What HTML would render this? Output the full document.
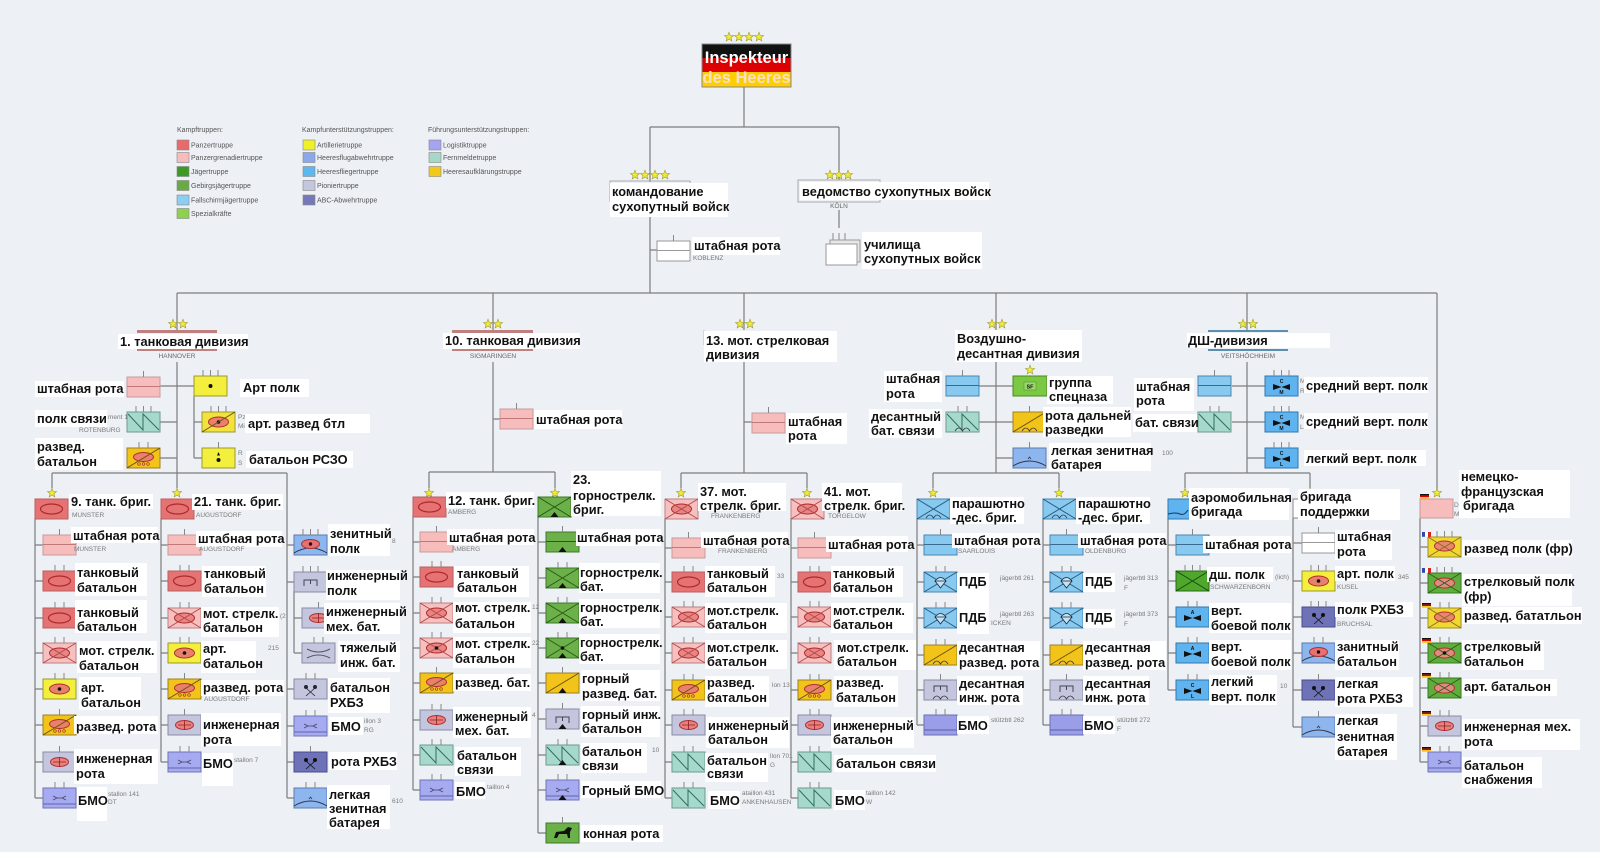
<!DOCTYPE html>
<html><head><meta charset="utf-8"><title>Heer</title>
<style>
html,body{margin:0;padding:0;background:#edf0f5;width:1600px;height:852px;overflow:hidden}
svg{display:block}
.l{font-family:"Liberation Sans","DejaVu Sans",sans-serif;font-weight:bold;font-size:12.8px;fill:#111}
.s{font-family:"Liberation Sans",sans-serif;font-size:6.5px;fill:#7a7a7a}
.g{font-family:"Liberation Sans",sans-serif;font-size:7px;fill:#555}
.c{font-family:"Liberation Sans",sans-serif;font-size:6.5px;fill:#666;text-anchor:middle}
.h{font-family:"Liberation Sans",sans-serif;font-weight:bold;font-size:5px;fill:#111;text-anchor:middle}
.ln{stroke:#7c7c7c;stroke-width:1.2;fill:none}
.w{fill:#fff}
</style></head><body>
<svg width="1600" height="852" viewBox="0 0 1600 852" xmlns="http://www.w3.org/2000/svg">
<defs>
<polygon id="st" points="0,-4.8 1.18,-1.62 4.57,-1.48 1.9,0.62 2.82,3.88 0,2 -2.82,3.88 -1.9,0.62 -4.57,-1.48 -1.18,-1.62" fill="#f2ea3a" stroke="#9a9a2a" stroke-width="0.6"/>
<path id="t1" d="M16.5 -6V0" stroke="#888" stroke-width="1"/>
<path id="t2" d="M12 -6V0M21 -6V0" stroke="#888" stroke-width="1"/>
<path id="t3" d="M9 -6V0M16.5 -6V0M24 -6V0" stroke="#888" stroke-width="1"/>
<g id="fde"><rect x="0" y="0" width="9" height="1.6" fill="#111"/><rect x="0" y="1.6" width="9" height="1.6" fill="#d00"/><rect x="0" y="3.2" width="9" height="1.6" fill="#fc0"/></g>
<g id="ffr"><rect x="0" y="0" width="3" height="4.8" fill="#2a4ab0"/><rect x="3" y="0" width="3" height="4.8" fill="#fff"/><rect x="6" y="0" width="3" height="4.8" fill="#d22"/></g>

<g id="tank"><rect width="33" height="20" fill="#e57373" stroke="#b86060"/><ellipse cx="16.5" cy="10" rx="11" ry="5" fill="none" stroke="#b02828" stroke-width="1.2"/></g>
<g id="hq"><rect width="33" height="20" fill="#f7bcbc" stroke="#c89a9a"/><path d="M0 9.5H33" stroke="#c07878"/></g>
<g id="pzg"><rect width="33" height="20" fill="#f7c0c0" stroke="#c08080"/><ellipse cx="16.5" cy="10" rx="10" ry="5" fill="#e98585" stroke="#b02828"/><path d="M0 0L33 20M33 0L0 20" stroke="#b04848" stroke-width="0.9"/></g>
<g id="pzgd"><use href="#pzg"/><circle cx="16.5" cy="10" r="1.8" fill="#111"/></g>
<g id="art"><rect width="33" height="20" fill="#f3ef3c" stroke="#9a9a30"/><ellipse cx="16.5" cy="10" rx="10" ry="5" fill="#e8806c" stroke="#b03030"/><circle cx="16.5" cy="10" r="1.8" fill="#111"/></g>
<g id="artd"><rect width="33" height="20" fill="#f3ef3c" stroke="#9a9a30"/><circle cx="16.5" cy="10" r="2" fill="#111"/></g>
<g id="rscz"><rect width="33" height="20" fill="#f3ef3c" stroke="#9a9a30"/><circle cx="16.5" cy="12" r="2" fill="#111"/><path d="M16.5 4L15 7.5H18Z" fill="#111"/></g>
<g id="artrec"><rect width="33" height="20" fill="#f3e23c" stroke="#9a9a30"/><ellipse cx="16.5" cy="10" rx="10" ry="5" fill="#e8806c" stroke="#b03030"/><circle cx="16.5" cy="10" r="1.8" fill="#111"/><path d="M0 20L33 0" stroke="#6a5010"/></g>
<g id="rec"><rect width="33" height="20" fill="#f2c41a" stroke="#a08020"/><ellipse cx="16.5" cy="9" rx="10" ry="4.5" fill="#e8806c" stroke="#b03030"/><path d="M0 20L33 0" stroke="#6a5010"/><circle cx="12" cy="16" r="1.3" fill="none" stroke="#a03030" stroke-width="0.7"/><circle cx="16.5" cy="16" r="1.3" fill="none" stroke="#a03030" stroke-width="0.7"/><circle cx="21" cy="16" r="1.3" fill="none" stroke="#a03030" stroke-width="0.7"/></g>
<g id="eng"><rect width="33" height="20" fill="#c4c6de" stroke="#8a8ca8"/><ellipse cx="16.5" cy="10" rx="9" ry="4.5" fill="#e88080" stroke="#b03030"/><path d="M16.5 5.5V14.5M10 10H23" stroke="#902020" stroke-width="0.8"/></g>
<g id="engb"><rect width="33" height="20" fill="#c4c6de" stroke="#8a8ca8"/><path d="M10 14V8H23V14M16.5 8V12" stroke="#445" fill="none"/></g>
<g id="engh"><rect width="33" height="20" fill="#c4c6de" stroke="#8a8ca8"/><path d="M5 6Q16.5 12 28 6M5 15Q16.5 9 28 15" stroke="#556" fill="none"/></g>
<g id="log"><rect width="33" height="20" fill="#a6aaf0" stroke="#7074b8"/><path d="M0 16H33" stroke="#6064a8"/><path d="M10 8L14 10L10 12M23 8L19 10L23 12M14 10H19" stroke="#446" stroke-width="0.8" fill="none"/></g>
<g id="sig"><rect width="33" height="20" fill="#a6d9cb" stroke="#6a9a90"/><path d="M1 2L16 18V2L32 18" stroke="#2f6f60" fill="none"/></g>
<g id="aa"><rect width="33" height="20" fill="#8db6ee" stroke="#5a7ab0"/><path d="M0 18Q16.5 8 33 18" stroke="#334" fill="none"/><ellipse cx="16.5" cy="9" rx="9" ry="4.5" fill="#e87070" stroke="#b03030"/><circle cx="16.5" cy="9" r="1.7" fill="#111"/></g>
<g id="aal"><rect width="33" height="20" fill="#8db6ee" stroke="#5a7ab0"/><path d="M0 18Q16.5 8 33 18" stroke="#334" fill="none"/><path d="M15 11L16.5 9L18 11" stroke="#334" fill="none" stroke-width="0.8"/></g>
<g id="cbrn"><rect width="33" height="20" fill="#c4c6de" stroke="#8a8ca8"/><circle cx="12" cy="8" r="2" fill="#223"/><circle cx="21" cy="8" r="2" fill="#223"/><path d="M12 9L21 17M21 9L12 17" stroke="#223" stroke-width="0.8"/></g>
<g id="cbrnd"><rect width="33" height="20" fill="#6e72b6" stroke="#4a4e90"/><circle cx="12" cy="8" r="2" fill="#111"/><circle cx="21" cy="8" r="2" fill="#111"/><path d="M12 9L21 17M21 9L12 17" stroke="#111" stroke-width="0.8"/></g>
<path id="tri" d="M12.5 20L16.5 15L20.5 20Z" fill="#111"/>
<g id="mtn"><rect width="33" height="20" fill="#6cb04a" stroke="#3e7a28"/><path d="M0 0L33 20M33 0L0 20" stroke="#2a5a18"/><use href="#tri"/></g>
<g id="mtnd"><use href="#mtn"/><circle cx="16.5" cy="10" r="1.8" fill="#111"/></g>
<g id="mtnhq"><rect width="33" height="20" fill="#6cb04a" stroke="#3e7a28"/><path d="M0 9.5H33" stroke="#2a5a18"/><use href="#tri"/></g>
<g id="mtnrec"><rect width="33" height="20" fill="#f2c41a" stroke="#a08020"/><path d="M0 20L33 0" stroke="#6a5010"/><use href="#tri"/></g>
<g id="mtneng"><use href="#engb"/><use href="#tri"/></g>
<g id="mtnsig"><use href="#sig"/><use href="#tri"/></g>
<g id="mtnlog"><use href="#log"/><use href="#tri"/></g>
<g id="horse"><rect width="33" height="20" fill="#6cb04a" stroke="#3e7a28"/><path d="M8 15L10 9L18 8L22 4L26 5L24 9L24 15L22 15L21 11L13 11L11 15Z" fill="#111"/></g>
<g id="parhq"><rect width="33" height="20" fill="#88c9ef" stroke="#4a86b0"/><path d="M0 9.5H33" stroke="#3a6a90"/></g>
<path id="arcs" d="M9 19Q12.75 13 16.5 19Q20.25 13 24 19" stroke="#334" fill="none" stroke-width="0.8"/>
<g id="para"><rect width="33" height="20" fill="#88c9ef" stroke="#4a86b0"/><path d="M0 0L33 20M33 0L0 20" stroke="#2a5a80"/><use href="#arcs"/></g>
<g id="pdb"><rect width="33" height="20" fill="#88c9ef" stroke="#4a86b0"/><path d="M0 0L33 20M33 0L0 20" stroke="#2a5a80"/><path d="M11 9Q16.5 2 22 9ZM11 9L16.5 16L22 9" stroke="#223" fill="#bfe4f8" stroke-width="0.8"/></g>
<g id="prec"><rect width="33" height="20" fill="#f2c41a" stroke="#a08020"/><path d="M0 20L33 0" stroke="#6a5010"/><use href="#arcs"/></g>
<g id="peng"><rect width="33" height="20" fill="#c4c6de" stroke="#8a8ca8"/><path d="M10 12V6H23V12M16.5 6V10" stroke="#445" fill="none"/><use href="#arcs"/></g>
<g id="psig"><use href="#sig"/><use href="#arcs"/></g>
<g id="plog"><rect width="33" height="20" fill="#9a9ee8" stroke="#6a6eb0"/><path d="M0 15H33" stroke="#5a5ea0"/></g>
<g id="heli"><rect width="33" height="20" fill="#5fb3ee" stroke="#2f79b0"/><path d="M8 8L16.5 11L8 14ZM25 8L16.5 11L25 14Z" fill="#111"/></g>
<g id="jgx"><rect width="33" height="20" fill="#4ea82c" stroke="#2a6a18"/><path d="M0 0L33 20M33 0L0 20" stroke="#1a4a10"/></g>
<g id="aero"><rect width="33" height="20" fill="#5fb3ee" stroke="#2f79b0"/><path d="M0 15Q8 13 12 15Q16 17 20 11" stroke="#235" fill="none"/></g>
<g id="whq"><rect width="33" height="20" fill="#fff" stroke="#999"/><path d="M0 9.5H33" stroke="#999"/></g>
<g id="frrec"><rect width="33" height="20" fill="#f0d830" stroke="#a09020"/><ellipse cx="16.5" cy="9" rx="10" ry="5" fill="#e8866e" stroke="#b03030"/><path d="M0 0L33 20M33 0L0 20" stroke="#8a6a20" stroke-width="0.8"/></g>
<g id="frinf"><rect width="33" height="20" fill="#5fae3d" stroke="#3a7a20"/><ellipse cx="16.5" cy="10" rx="10" ry="5" fill="#e08a80" stroke="#b03030"/><path d="M0 0L33 20M33 0L0 20" stroke="#2a5a18" stroke-width="0.8"/></g>
<g id="frinfd"><use href="#frinf"/><circle cx="16.5" cy="10" r="1.8" fill="#111"/></g>
</defs>

<rect width="1600" height="852" fill="#edf0f5"/>

<!-- LEGEND -->
<text class="g" x="177" y="132">Kampftruppen:</text>
<g stroke="#888" stroke-width="0.6">
<rect x="177" y="140" width="12" height="10" fill="#e86a6a"/>
<rect x="177" y="152.5" width="12" height="10" fill="#f8bcbc"/>
<rect x="177" y="166.5" width="12" height="10" fill="#3f9a25"/>
<rect x="177" y="180.5" width="12" height="10" fill="#6aaa45"/>
<rect x="177" y="195" width="12" height="10" fill="#8dcdf0"/>
<rect x="177" y="208.5" width="12" height="10" fill="#8ed050"/>
<rect x="303" y="140" width="12" height="10" fill="#f0f028"/>
<rect x="303" y="152.5" width="12" height="10" fill="#8aa8ea"/>
<rect x="303" y="166.5" width="12" height="10" fill="#5db8f0"/>
<rect x="303" y="180.5" width="12" height="10" fill="#c4c6de"/>
<rect x="303" y="195" width="12" height="10" fill="#7478b8"/>
<rect x="429" y="140" width="12" height="10" fill="#a4a4f0"/>
<rect x="429" y="152.5" width="12" height="10" fill="#a6d8c8"/>
<rect x="429" y="166.5" width="12" height="10" fill="#f2c81a"/>
</g>
<text class="g" x="191" y="147.5">Panzertruppe</text>
<text class="g" x="191" y="160">Panzergrenadiertruppe</text>
<text class="g" x="191" y="174">Jägertruppe</text>
<text class="g" x="191" y="188">Gebirgsjägertruppe</text>
<text class="g" x="191" y="202.5">Fallschirmjägertruppe</text>
<text class="g" x="191" y="216">Spezialkräfte</text>
<text class="g" x="302" y="132">Kampfunterstützungstruppen:</text>
<text class="g" x="317" y="147.5">Artillerietruppe</text>
<text class="g" x="317" y="160">Heeresflugabwehrtruppe</text>
<text class="g" x="317" y="174">Heeresfliegertruppe</text>
<text class="g" x="317" y="188">Pioniertruppe</text>
<text class="g" x="317" y="202.5">ABC-Abwehrtruppe</text>
<text class="g" x="428" y="132">Führungsunterstützungstruppen:</text>
<text class="g" x="443" y="147.5">Logistiktruppe</text>
<text class="g" x="443" y="160">Fernmeldetruppe</text>
<text class="g" x="443" y="174">Heeresaufklärungstruppe</text>

<!-- CONNECTORS -->
<path class="ln" d="M744 87V127M650 127H839M650 127V182M839 127V180M650 217V293M650 250H657M839 210V228M177 293H1437
M177 293V330M493 293V330M744 293V330M996 293V330M1247 293V330M1437 293V489
M177 362V473M160 386H194M160 422H177M160 458H177M194 396V458M194 422H202M194 458H202M52 473H287M52 473V488M177 473V488
M35 518V798M35 545H43M35 581H43M35 618H43M35 653H43M35 689H43M35 725H43M35 762H43M35 798H43
M161 518V762M161 545H168M161 581H168M161 618H168M161 653H168M161 689H168M161 725H168M161 762H168
M287 473V798M287 545H294M287 582H294M287 689H294M287 726H294M287 762H294M287 798H294M294 590V653M294 618H302M294 653H302
M493 362V472M493 419H500M429 472H555M429 472V488M555 472V488
M413 515V790M413 542H420M413 577H420M413 613H420M413 648H420M413 683H420M413 720H420M413 755H420M413 790H420
M538 515V833M538 542H546M538 578H546M538 613H546M538 648H546M538 683H546M538 719H546M538 755H546M538 790H546M538 833H546
M744 362V473M744 422H752M681 473H807M681 473V488M807 473V488
M665 518V798M665 548H672M665 582H672M665 617H672M665 653H672M665 690H672M665 725H672M665 762H672M665 798H672
M791 518V798M791 548H798M791 582H798M791 617H798M791 653H798M791 690H798M791 725H798M791 762H798M791 798H798
M996 362V473M979 386H1013M979 422H1013M996 458H1013M933 473H1059M933 473V488M1059 473V488
M917 518V725M917 545H924M917 582H924M917 618H924M917 655H924M917 690H924M917 725H924
M1043 518V725M1043 545H1050M1043 582H1050M1043 618H1050M1043 655H1050M1043 690H1050M1043 725H1050
M1247 362V473M1232 386H1265M1232 422H1265M1247 458H1265M1185 473H1310M1185 473V488M1310 473V488
M1168 518V690M1168 545H1176M1168 581H1176M1168 617H1176M1168 653H1176M1168 690H1176
M1293 518V727M1293 543H1302M1293 581H1302M1293 617H1302M1293 653H1302M1293 690H1302M1293 727H1302
M1420 518V762M1420 547H1428M1420 583H1428M1420 618H1428M1420 653H1428M1420 688H1428M1420 726H1428M1420 762H1428"/>

<!-- TOP: Inspekteur -->
<use href="#st" x="729" y="37"/><use href="#st" x="739" y="37"/><use href="#st" x="749" y="37"/><use href="#st" x="759" y="37"/>
<rect x="702" y="44" width="89" height="14" fill="#111"/>
<rect x="702" y="58" width="89" height="14" fill="#dd0000"/>
<rect x="702" y="72" width="89" height="15" fill="#ffce00"/>
<rect x="702" y="44" width="89" height="43" fill="none" stroke="#888"/>
<text x="746.5" y="63" text-anchor="middle" style="font-family:'Liberation Sans',sans-serif;font-weight:bold;font-size:16.5px;fill:#fff">Inspekteur</text>
<text x="746.5" y="83" text-anchor="middle" style="font-family:'Liberation Sans',sans-serif;font-weight:bold;font-size:16.5px;fill:#fbe0c8">des Heeres</text>

<!-- Kommando Heer -->
<use href="#st" x="635" y="175"/><use href="#st" x="645" y="175"/><use href="#st" x="655" y="175"/><use href="#st" x="665" y="175"/>
<rect x="610" y="181" width="80" height="20" fill="none" stroke="#aaa"/>
<rect class="w" x="610" y="183" width="118" height="34"/>
<text class="l" x="612" y="196">командование</text>
<text class="l" x="612" y="211">сухопутный войск</text>
<use href="#whq" x="657" y="241"/><use href="#t1" x="657" y="241"/>
<rect class="w" x="692" y="237" width="88" height="18"/>
<text class="l" x="694" y="250">штабная рота</text>
<text class="s" x="693" y="260">KOBLENZ</text>

<!-- Amt Heer -->
<use href="#st" x="830" y="175"/><use href="#st" x="839" y="175"/><use href="#st" x="848" y="175"/>
<rect x="798" y="180" width="82" height="22" fill="none" stroke="#aaa"/>
<rect class="w" x="800" y="182" width="189" height="18"/>
<text class="l" x="802" y="196">ведомство сухопутных войск</text>
<text class="c" x="839" y="208">KÖLN</text>
<path d="M833 233V240M839 233V240M845 233V240" stroke="#888"/>
<rect x="830" y="240" width="30" height="22" fill="#e6e6e6" stroke="#999"/>
<rect x="826" y="244" width="31" height="21" fill="#fff" stroke="#999"/>
<rect class="w" x="862" y="232" width="120" height="37"/>
<text class="l" x="864" y="249">училища</text>
<text class="l" x="864" y="263">сухопутных войск</text>

<!-- DIV 1 -->
<use href="#st" x="173" y="324"/><use href="#st" x="183" y="324"/>
<rect x="137" y="330" width="80" height="3" fill="#c08080"/>
<rect class="w" x="118" y="334" width="130" height="15"/>
<rect x="137" y="349" width="80" height="2" fill="#c08080"/>
<text class="l" x="120" y="346">1. танковая дивизия</text>
<text class="c" x="177" y="358">HANNOVER</text>
<use href="#hq" x="127" y="377"/><use href="#t1" x="127" y="377"/>
<rect class="w" x="35" y="381" width="89" height="16"/><text class="l" x="37" y="393">штабная рота</text>
<use href="#sig" x="127" y="412"/><use href="#t3" x="127" y="412"/>
<text class="s" x="108" y="419">ment 1</text><text class="s" x="79" y="432">ROTENBURG</text>
<rect class="w" x="35" y="410" width="72" height="17"/><text class="l" x="37" y="423">полк связи</text>
<use href="#rec" x="127" y="448"/><use href="#t2" x="127" y="448"/>
<rect class="w" x="35" y="438" width="88" height="32"/><text class="l" x="37" y="451">развед.</text><text class="l" x="37" y="466">батальон</text>
<use href="#artd" x="194" y="376"/><use href="#t3" x="194" y="376"/>
<rect class="w" x="240" y="379" width="69" height="18"/><text class="l" x="243" y="392">Арт полк</text>
<use href="#artrec" x="202" y="412"/><use href="#t3" x="202" y="412"/>
<text class="s" x="238" y="419">Pz</text><text class="s" x="238" y="428">Mi</text>
<rect class="w" x="245" y="414" width="125" height="19"/><text class="l" x="248" y="428">арт. развед бтл</text>
<use href="#rscz" x="202" y="448"/><use href="#t1" x="202" y="448"/>
<text class="s" x="238" y="455">R</text><text class="s" x="238" y="465">S</text>
<rect class="w" x="246" y="451" width="107" height="17"/><text class="l" x="249" y="464">батальон РСЗО</text>

<!-- 9 brig -->
<use href="#st" x="52" y="493"/>
<use href="#tank" x="35" y="499"/>
<rect class="w" x="69" y="494" width="84" height="15"/><text class="l" x="71" y="506">9. танк. бриг.</text>
<text class="s" x="72" y="517">MUNSTER</text>
<use href="#hq" x="43" y="535"/><use href="#t1" x="43" y="535"/>
<use href="#tank" x="43" y="571"/><use href="#t2" x="43" y="571"/>
<use href="#tank" x="43" y="608"/><use href="#t2" x="43" y="608"/>
<use href="#pzg" x="43" y="643"/><use href="#t2" x="43" y="643"/>
<use href="#art" x="43" y="679"/><use href="#t2" x="43" y="679"/>
<use href="#rec" x="43" y="715"/><use href="#t1" x="43" y="715"/>
<use href="#eng" x="43" y="752"/><use href="#t1" x="43" y="752"/>
<use href="#log" x="43" y="788"/><use href="#t2" x="43" y="788"/>
<rect class="w" x="71" y="527" width="87" height="16"/><text class="l" x="73" y="540">штабная рота</text>
<text class="s" x="74" y="551">MUNSTER</text>
<rect class="w" x="75" y="563" width="72" height="33"/><text class="l" x="77" y="577">танковый</text><text class="l" x="77" y="592">батальон</text>
<rect class="w" x="75" y="600" width="72" height="33"/><text class="l" x="77" y="617">танковый</text><text class="l" x="77" y="631">батальон</text>
<rect class="w" x="77" y="641" width="80" height="32"/><text class="l" x="79" y="655">мот. стрелк.</text><text class="l" x="79" y="670">батальон</text>
<rect class="w" x="79" y="677" width="62" height="33"/><text class="l" x="81" y="692">арт.</text><text class="l" x="81" y="707">батальон</text>
<rect class="w" x="74" y="716" width="84" height="18"/><text class="l" x="76" y="731">развед. рота</text>
<rect class="w" x="74" y="749" width="84" height="35"/><text class="l" x="76" y="763">инженерная</text><text class="l" x="76" y="778">рота</text>
<text class="s" x="108" y="796">stallon 141</text><text class="s" x="108" y="804">DT</text>
<rect class="w" x="77" y="787" width="30" height="34"/><text class="l" x="78" y="805">БМО</text>

<!-- 21 brig -->
<use href="#st" x="177" y="493"/>
<use href="#tank" x="161" y="499"/>
<rect class="w" x="192" y="494" width="91" height="16"/><text class="l" x="194" y="506">21. танк. бриг.</text>
<text class="s" x="196" y="517">AUGUSTDORF</text>
<use href="#hq" x="168" y="535"/><use href="#t1" x="168" y="535"/>
<use href="#tank" x="168" y="571"/><use href="#t2" x="168" y="571"/>
<use href="#pzg" x="168" y="608"/><use href="#t2" x="168" y="608"/>
<use href="#art" x="168" y="643"/><use href="#t2" x="168" y="643"/>
<use href="#rec" x="168" y="679"/><use href="#t1" x="168" y="679"/>
<use href="#eng" x="168" y="715"/><use href="#t1" x="168" y="715"/>
<use href="#log" x="168" y="752"/><use href="#t2" x="168" y="752"/>
<rect class="w" x="196" y="531" width="86" height="16"/><text class="l" x="198" y="543">штабная рота</text>
<text class="s" x="199" y="551">AUGUSTDORF</text>
<rect class="w" x="202" y="566" width="64" height="31"/><text class="l" x="204" y="578">танковый</text><text class="l" x="204" y="593">батальон</text>
<rect class="w" x="201" y="607" width="78" height="30"/><text class="l" x="203" y="618">мот. стрелк.</text><text class="l" x="203" y="632">батальон</text>
<text class="s" x="280" y="618">(2</text>
<rect class="w" x="201" y="641" width="55" height="32"/><text class="l" x="203" y="653">арт.</text><text class="l" x="203" y="668">батальон</text>
<text class="s" x="268" y="650">215</text>
<rect class="w" x="201" y="680" width="83" height="16"/><text class="l" x="203" y="692">развед. рота</text>
<text class="s" x="204" y="701">AUGUSTDORF</text>
<rect class="w" x="201" y="713" width="80" height="33"/><text class="l" x="203" y="729">инженерная</text><text class="l" x="203" y="744">рота</text>
<text class="s" x="234" y="762">stallon 7</text>
<rect class="w" x="202" y="753" width="31" height="33"/><text class="l" x="203" y="768">БМО</text>

<!-- div1 support -->
<use href="#aa" x="294" y="535"/><use href="#t3" x="294" y="535"/>
<use href="#engb" x="294" y="572"/><use href="#t3" x="294" y="572"/>
<use href="#eng" x="302" y="608"/><use href="#t1" x="302" y="608"/>
<use href="#engh" x="302" y="643"/><use href="#t2" x="302" y="643"/>
<use href="#cbrn" x="294" y="679"/><use href="#t2" x="294" y="679"/>
<use href="#log" x="294" y="716"/><use href="#t2" x="294" y="716"/>
<use href="#cbrnd" x="294" y="752"/><use href="#t1" x="294" y="752"/>
<use href="#aal" x="294" y="788"/><use href="#t2" x="294" y="788"/>
<rect class="w" x="328" y="524" width="62" height="32"/><text class="l" x="330" y="538">зенитный</text><text class="l" x="330" y="553">полк</text>
<text class="s" x="392" y="543">8</text>
<rect class="w" x="326" y="570" width="74" height="30"/><text class="l" x="327" y="580">инженерный</text><text class="l" x="327" y="595">полк</text>
<rect class="w" x="324" y="603" width="76" height="31"/><text class="l" x="326" y="616">инженерный</text><text class="l" x="326" y="631">мех. бат.</text>
<rect class="w" x="338" y="641" width="62" height="31"/><text class="l" x="340" y="652">тяжелый</text><text class="l" x="340" y="667">инж. бат.</text>
<rect class="w" x="328" y="678" width="62" height="35"/><text class="l" x="330" y="692">батальон</text><text class="l" x="330" y="707">РХБЗ</text>
<text class="s" x="364" y="723">illon 3</text><text class="s" x="364" y="732">RG</text>
<rect class="w" x="329" y="717" width="34" height="18"/><text class="l" x="331" y="731">БМО</text>
<rect class="w" x="329" y="752" width="68" height="18"/><text class="l" x="331" y="766">рота РХБЗ</text>
<text class="s" x="392" y="803">610</text>
<rect class="w" x="327" y="785" width="63" height="44"/><text class="l" x="329" y="799">легкая</text><text class="l" x="329" y="813">зенитная</text><text class="l" x="329" y="827">батарея</text>

<!-- DIV 10 -->
<use href="#st" x="488" y="324"/><use href="#st" x="498" y="324"/>
<rect x="452" y="330" width="81" height="3" fill="#c08080"/>
<rect class="w" x="443" y="333" width="137" height="16"/>
<rect x="452" y="349" width="81" height="2" fill="#c08080"/>
<text class="l" x="445" y="345">10. танковая дивизия</text>
<text class="c" x="493" y="358">SIGMARINGEN</text>
<use href="#hq" x="500" y="409"/><use href="#t1" x="500" y="409"/>
<rect class="w" x="534" y="410" width="88" height="19"/><text class="l" x="536" y="424">штабная рота</text>

<use href="#st" x="429" y="493"/><use href="#st" x="555" y="493"/>
<use href="#tank" x="413" y="497"/>
<rect class="w" x="446" y="492" width="88" height="16"/><text class="l" x="448" y="505">12. танк. бриг.</text>
<text class="s" x="448" y="514">AMBERG</text>
<use href="#hq" x="420" y="532"/><use href="#t1" x="420" y="532"/>
<use href="#tank" x="420" y="567"/><use href="#t2" x="420" y="567"/>
<use href="#pzg" x="420" y="603"/><use href="#t2" x="420" y="603"/>
<use href="#pzgd" x="420" y="638"/><use href="#t2" x="420" y="638"/>
<use href="#rec" x="420" y="673"/><use href="#t1" x="420" y="673"/>
<use href="#eng" x="420" y="710"/><use href="#t2" x="420" y="710"/>
<use href="#sig" x="420" y="745"/><use href="#t2" x="420" y="745"/>
<use href="#log" x="420" y="780"/><use href="#t2" x="420" y="780"/>
<rect class="w" x="447" y="529" width="87" height="16"/><text class="l" x="449" y="542">штабная рота</text>
<text class="s" x="452" y="551">AMBERG</text>
<rect class="w" x="454" y="566" width="75" height="31"/><text class="l" x="457" y="578">танковый</text><text class="l" x="457" y="592">батальон</text>
<rect class="w" x="453" y="602" width="78" height="31"/><text class="l" x="455" y="612">мот. стрелк.</text><text class="l" x="455" y="628">батальон</text>
<text class="s" x="532" y="609">12</text>
<rect class="w" x="453" y="637" width="78" height="31"/><text class="l" x="455" y="648">мот. стрелк.</text><text class="l" x="455" y="663">батальон</text>
<text class="s" x="532" y="645">22</text>
<rect class="w" x="453" y="674" width="78" height="17"/><text class="l" x="455" y="687">развед. бат.</text>
<rect class="w" x="453" y="707" width="78" height="31"/><text class="l" x="455" y="721">иженерный</text><text class="l" x="455" y="735">мех. бат.</text>
<text class="s" x="532" y="717">4</text>
<rect class="w" x="455" y="747" width="66" height="29"/><text class="l" x="457" y="760">батальон</text><text class="l" x="457" y="774">связи</text>
<text class="s" x="487" y="789">taillon 4</text>
<rect class="w" x="455" y="782" width="30" height="17"/><text class="l" x="456" y="796">БМО</text>

<use href="#mtn" x="538" y="497"/>
<rect class="w" x="571" y="471" width="90" height="45"/><text class="l" x="573" y="484">23.</text><text class="l" x="573" y="500">горнострелк.</text><text class="l" x="573" y="514">бриг.</text>
<use href="#mtnhq" x="546" y="532"/><use href="#t1" x="546" y="532"/>
<use href="#mtn" x="546" y="568"/><use href="#t2" x="546" y="568"/>
<use href="#mtn" x="546" y="603"/><use href="#t2" x="546" y="603"/>
<use href="#mtnd" x="546" y="638"/><use href="#t2" x="546" y="638"/>
<use href="#mtnrec" x="546" y="673"/><use href="#t1" x="546" y="673"/>
<use href="#mtneng" x="546" y="709"/><use href="#t1" x="546" y="709"/>
<use href="#mtnsig" x="546" y="745"/><use href="#t2" x="546" y="745"/>
<use href="#mtnlog" x="546" y="780"/><use href="#t2" x="546" y="780"/>
<use href="#horse" x="546" y="823"/><use href="#t1" x="546" y="823"/>
<rect class="w" x="576" y="529" width="85" height="17"/><text class="l" x="577" y="542">штабная рота</text>
<rect class="w" x="579" y="563" width="81" height="30"/><text class="l" x="580" y="577">горнострелк.</text><text class="l" x="580" y="591">бат.</text>
<rect class="w" x="579" y="599" width="81" height="29"/><text class="l" x="580" y="612">горнострелк.</text><text class="l" x="580" y="626">бат.</text>
<rect class="w" x="579" y="634" width="81" height="30"/><text class="l" x="580" y="647">горнострелк.</text><text class="l" x="580" y="661">бат.</text>
<rect class="w" x="581" y="670" width="79" height="31"/><text class="l" x="582" y="683">горный</text><text class="l" x="582" y="698">развед. бат.</text>
<rect class="w" x="581" y="706" width="79" height="31"/><text class="l" x="582" y="719">горный инж.</text><text class="l" x="582" y="733">батальон</text>
<text class="s" x="652" y="752">10</text>
<rect class="w" x="581" y="743" width="66" height="30"/><text class="l" x="582" y="756">батальон</text><text class="l" x="582" y="770">связи</text>
<rect class="w" x="581" y="781" width="80" height="17"/><text class="l" x="582" y="795">Горный БМО</text>
<rect class="w" x="581" y="825" width="82" height="17"/><text class="l" x="583" y="838">конная рота</text>

<!-- DIV 13 -->
<use href="#st" x="740" y="324"/><use href="#st" x="750" y="324"/>
<path d="M704 330V345" stroke="#bbb"/>
<rect class="w" x="704" y="331" width="133" height="31"/>
<text class="l" x="706" y="345">13. мот. стрелковая</text><text class="l" x="706" y="359">дивизия</text>
<use href="#hq" x="752" y="413"/><use href="#t1" x="752" y="413"/>
<rect class="w" x="786" y="413" width="61" height="31"/><text class="l" x="788" y="426">штабная</text><text class="l" x="788" y="440">рота</text>

<use href="#st" x="681" y="493"/><use href="#st" x="807" y="493"/>
<use href="#pzg" x="665" y="499"/>
<rect class="w" x="698" y="483" width="88" height="28"/><text class="l" x="700" y="496">37. мот.</text><text class="l" x="700" y="510">стрелк. бриг.</text>
<text class="s" x="711" y="518">FRANKENBERG</text>
<use href="#hq" x="672" y="538"/><use href="#t1" x="672" y="538"/>
<use href="#tank" x="672" y="572"/><use href="#t2" x="672" y="572"/>
<use href="#pzg" x="672" y="607"/><use href="#t2" x="672" y="607"/>
<use href="#pzg" x="672" y="643"/><use href="#t2" x="672" y="643"/>
<use href="#rec" x="672" y="680"/><use href="#t2" x="672" y="680"/>
<use href="#eng" x="672" y="715"/><use href="#t2" x="672" y="715"/>
<use href="#sig" x="672" y="752"/><use href="#t2" x="672" y="752"/>
<use href="#sig" x="672" y="788"/><use href="#t2" x="672" y="788"/>
<rect class="w" x="701" y="532" width="87" height="16"/><text class="l" x="703" y="545">штабная рота</text>
<text class="s" x="718" y="553">FRANKENBERG</text>
<rect class="w" x="705" y="566" width="70" height="31"/><text class="l" x="707" y="578">танковый</text><text class="l" x="707" y="592">батальон</text>
<text class="s" x="777" y="578">33</text>
<rect class="w" x="705" y="603" width="82" height="30"/><text class="l" x="707" y="615">мот.стрелк.</text><text class="l" x="707" y="629">батальон</text>
<rect class="w" x="705" y="640" width="82" height="29"/><text class="l" x="707" y="652">мот.стрелк.</text><text class="l" x="707" y="666">батальон</text>
<rect class="w" x="705" y="676" width="64" height="31"/><text class="l" x="707" y="687">развед.</text><text class="l" x="707" y="702">батальон</text>
<text class="s" x="772" y="687">lon 13</text>
<rect class="w" x="706" y="717" width="83" height="31"/><text class="l" x="708" y="730">инженерный</text><text class="l" x="708" y="744">батальон</text>
<text class="s" x="770" y="758">llon 701</text><text class="s" x="770" y="767">G</text>
<rect class="w" x="705" y="753" width="63" height="29"/><text class="l" x="707" y="765">батальон</text><text class="l" x="707" y="778">связи</text>
<text class="s" x="742" y="795">ataillon 431</text><text class="s" x="742" y="804">ANKENHAUSEN</text>
<rect class="w" x="708" y="791" width="32" height="18"/><text class="l" x="710" y="805">БМО</text>

<use href="#pzg" x="791" y="499"/>
<rect class="w" x="822" y="483" width="80" height="28"/><text class="l" x="824" y="496">41. мот.</text><text class="l" x="824" y="510">стрелк. бриг.</text>
<text class="s" x="828" y="518">TORGELOW</text>
<use href="#hq" x="798" y="538"/><use href="#t1" x="798" y="538"/>
<use href="#tank" x="798" y="572"/><use href="#t2" x="798" y="572"/>
<use href="#pzg" x="798" y="607"/><use href="#t2" x="798" y="607"/>
<use href="#pzg" x="798" y="643"/><use href="#t2" x="798" y="643"/>
<use href="#rec" x="798" y="680"/><use href="#t2" x="798" y="680"/>
<use href="#eng" x="798" y="715"/><use href="#t2" x="798" y="715"/>
<use href="#sig" x="798" y="752"/><use href="#t2" x="798" y="752"/>
<use href="#sig" x="798" y="788"/><use href="#t2" x="798" y="788"/>
<rect class="w" x="826" y="536" width="82" height="16"/><text class="l" x="828" y="549">штабная рота</text>
<rect class="w" x="831" y="566" width="72" height="31"/><text class="l" x="833" y="578">танковый</text><text class="l" x="833" y="592">батальон</text>
<rect class="w" x="831" y="603" width="82" height="30"/><text class="l" x="833" y="615">мот.стрелк.</text><text class="l" x="833" y="629">батальон</text>
<rect class="w" x="834" y="640" width="82" height="30"/><text class="l" x="837" y="652">мот.стрелк.</text><text class="l" x="837" y="666">батальон</text>
<rect class="w" x="834" y="676" width="64" height="31"/><text class="l" x="836" y="687">развед.</text><text class="l" x="836" y="702">батальон</text>
<rect class="w" x="831" y="717" width="83" height="31"/><text class="l" x="833" y="730">инженерный</text><text class="l" x="833" y="744">батальон</text>
<rect class="w" x="834" y="755" width="102" height="17"/><text class="l" x="836" y="768">батальон связи</text>
<text class="s" x="866" y="795">taillon 142</text><text class="s" x="866" y="804">W</text>
<rect class="w" x="834" y="790" width="31" height="20"/><text class="l" x="835" y="805">БМО</text>

<!-- AIRBORNE -->
<use href="#st" x="992" y="324"/><use href="#st" x="1002" y="324"/>
<rect class="w" x="955" y="330" width="127" height="32"/>
<text class="l" x="957" y="343">Воздушно-</text><text class="l" x="957" y="358">десантная дивизия</text>
<use href="#parhq" x="946" y="376"/><use href="#t1" x="946" y="376"/>
<use href="#psig" x="946" y="412"/><use href="#t2" x="946" y="412"/>
<rect class="w" x="884" y="371" width="58" height="31"/><text class="l" x="886" y="383">штабная</text><text class="l" x="886" y="398">рота</text>
<rect class="w" x="869" y="409" width="73" height="29"/><text class="l" x="871" y="421">десантный</text><text class="l" x="871" y="435">бат. связи</text>
<rect x="1013" y="376" width="34" height="20" fill="#7ac843" stroke="#4a8a20"/>
<rect x="1024" y="382" width="12" height="8" fill="#9ada6a" stroke="#4a8a20" stroke-width="0.5"/>
<text class="h" x="1030" y="388.5" style="font-size:5.5px">SF</text>
<use href="#st" x="1030" y="370"/>
<use href="#prec" x="1013" y="412"/><use href="#t1" x="1013" y="412"/>
<use href="#aal" x="1013" y="448"/><use href="#t1" x="1013" y="448"/>
<rect class="w" x="1047" y="376" width="66" height="28"/><text class="l" x="1049" y="387">группа</text><text class="l" x="1049" y="401">спецназа</text>
<rect class="w" x="1043" y="407" width="88" height="30"/><text class="l" x="1045" y="420">рота дальней</text><text class="l" x="1045" y="434">разведки</text>
<rect class="w" x="1049" y="443" width="102" height="28"/><text class="l" x="1051" y="455">легкая зенитная</text><text class="l" x="1051" y="469">батарея</text>
<text class="s" x="1162" y="455">100</text>

<use href="#st" x="933" y="493"/><use href="#st" x="1059" y="493"/>
<use href="#para" x="917" y="499"/>
<rect class="w" x="950" y="497" width="74" height="27"/><text class="l" x="952" y="508">парашютно</text><text class="l" x="952" y="522">-дес. бриг.</text>
<use href="#parhq" x="924" y="535"/><use href="#t1" x="924" y="535"/>
<use href="#pdb" x="924" y="572"/><use href="#t2" x="924" y="572"/>
<use href="#pdb" x="924" y="608"/><use href="#t2" x="924" y="608"/>
<use href="#prec" x="924" y="645"/><use href="#t2" x="924" y="645"/>
<use href="#peng" x="924" y="680"/><use href="#t1" x="924" y="680"/>
<use href="#plog" x="924" y="715"/><use href="#t2" x="924" y="715"/>
<rect class="w" x="952" y="533" width="88" height="15"/><text class="l" x="954" y="545">штабная рота</text>
<text class="s" x="958" y="553">SAARLOUIS</text>
<text class="s" x="1000" y="580">jägerbtl 261</text>
<rect class="w" x="957" y="573" width="32" height="37"/><text class="l" x="959" y="586">ПДБ</text>
<text class="s" x="1000" y="616">jägerbtl 263</text><text class="s" x="991" y="625">ICKEN</text>
<rect class="w" x="957" y="609" width="32" height="25"/><text class="l" x="959" y="622">ПДБ</text>
<rect class="w" x="957" y="641" width="83" height="29"/><text class="l" x="959" y="652">десантная</text><text class="l" x="959" y="667">развед. рота</text>
<rect class="w" x="957" y="676" width="66" height="29"/><text class="l" x="959" y="688">десантная</text><text class="l" x="959" y="702">инж. рота</text>
<text class="s" x="991" y="722">stützbtl 262</text>
<rect class="w" x="957" y="716" width="32" height="18"/><text class="l" x="958" y="730">БМО</text>

<use href="#para" x="1043" y="499"/>
<rect class="w" x="1076" y="497" width="74" height="27"/><text class="l" x="1078" y="508">парашютно</text><text class="l" x="1078" y="522">-дес. бриг.</text>
<use href="#parhq" x="1050" y="535"/><use href="#t1" x="1050" y="535"/>
<use href="#pdb" x="1050" y="572"/><use href="#t2" x="1050" y="572"/>
<use href="#pdb" x="1050" y="608"/><use href="#t2" x="1050" y="608"/>
<use href="#prec" x="1050" y="645"/><use href="#t2" x="1050" y="645"/>
<use href="#peng" x="1050" y="680"/><use href="#t1" x="1050" y="680"/>
<use href="#plog" x="1050" y="715"/><use href="#t2" x="1050" y="715"/>
<rect class="w" x="1078" y="533" width="88" height="15"/><text class="l" x="1080" y="545">штабная рота</text>
<text class="s" x="1085" y="553">OLDENBURG</text>
<text class="s" x="1124" y="580">jägerbtl 313</text><text class="s" x="1124" y="590">F</text>
<rect class="w" x="1083" y="573" width="32" height="19"/><text class="l" x="1085" y="586">ПДБ</text>
<text class="s" x="1124" y="616">jägerbtl 373</text><text class="s" x="1124" y="626">F</text>
<rect class="w" x="1083" y="609" width="32" height="19"/><text class="l" x="1085" y="622">ПДБ</text>
<rect class="w" x="1083" y="641" width="83" height="29"/><text class="l" x="1085" y="652">десантная</text><text class="l" x="1085" y="667">развед. рота</text>
<rect class="w" x="1083" y="676" width="66" height="29"/><text class="l" x="1085" y="688">десантная</text><text class="l" x="1085" y="702">инж. рота</text>
<text class="s" x="1117" y="722">stützbtl 272</text><text class="s" x="1117" y="731">F</text>
<rect class="w" x="1083" y="716" width="32" height="18"/><text class="l" x="1084" y="730">БМО</text>

<!-- DS DIVISION -->
<use href="#st" x="1243" y="324"/><use href="#st" x="1253" y="324"/>
<rect x="1208" y="330" width="80" height="2" fill="#5a8fb0"/>
<rect class="w" x="1187" y="333" width="143" height="15"/>
<rect x="1208" y="349" width="80" height="2" fill="#5a8fb0"/>
<text class="l" x="1188" y="345">ДШ-дивизия</text>
<text class="c" x="1248" y="358">VEITSHÖCHHEIM</text>
<use href="#parhq" x="1198" y="376"/><use href="#t1" x="1198" y="376"/>
<use href="#sig" x="1198" y="412"/><use href="#t2" x="1198" y="412"/>
<rect class="w" x="1134" y="378" width="60" height="33"/><text class="l" x="1136" y="391">штабная</text><text class="l" x="1136" y="405">рота</text>
<rect class="w" x="1133" y="414" width="64" height="18"/><text class="l" x="1135" y="427">бат. связи</text>
<use href="#heli" x="1265" y="376"/><use href="#t3" x="1265" y="376"/>
<text class="h" x="1281.5" y="383">C</text><text class="h" x="1281.5" y="394">M</text>
<use href="#heli" x="1265" y="412"/><use href="#t3" x="1265" y="412"/>
<text class="h" x="1281.5" y="419">C</text><text class="h" x="1281.5" y="430">M</text>
<use href="#heli" x="1265" y="448"/><use href="#t3" x="1265" y="448"/>
<text class="h" x="1281.5" y="455">C</text><text class="h" x="1281.5" y="466">L</text>
<text class="s" x="1300" y="383">M</text><text class="s" x="1300" y="393">RHEINE</text>
<rect class="w" x="1304" y="377" width="124" height="16"/><text class="l" x="1306" y="390">средний верт. полк</text>
<text class="s" x="1300" y="419">M</text><text class="s" x="1300" y="429">LAUPHEIM</text>
<rect class="w" x="1304" y="413" width="124" height="16"/><text class="l" x="1306" y="426">средний верт. полк</text>
<rect class="w" x="1304" y="450" width="122" height="16"/><text class="l" x="1306" y="463">легкий верт. полк</text>

<use href="#aero" x="1168" y="499"/>
<use href="#st" x="1185" y="493"/>
<rect class="w" x="1189" y="488" width="100" height="32"/><text class="l" x="1191" y="502">аэромобильная</text><text class="l" x="1191" y="516">бригада</text>
<use href="#parhq" x="1176" y="535"/><use href="#t1" x="1176" y="535"/>
<use href="#jgx" x="1176" y="571"/><use href="#t3" x="1176" y="571"/>
<use href="#heli" x="1176" y="607"/><use href="#t2" x="1176" y="607"/>
<text class="h" x="1192.5" y="614">A</text>
<use href="#heli" x="1176" y="643"/><use href="#t2" x="1176" y="643"/>
<text class="h" x="1192.5" y="650">A</text>
<use href="#heli" x="1176" y="680"/><use href="#t2" x="1176" y="680"/>
<text class="h" x="1192.5" y="687">C</text><text class="h" x="1192.5" y="698">L</text>
<rect class="w" x="1203" y="536" width="88" height="17"/><text class="l" x="1205" y="549">штабная рота</text>
<text class="s" x="1275" y="579">(lich)</text>
<rect class="w" x="1207" y="567" width="66" height="15"/><text class="l" x="1209" y="579">дш. полк</text>
<text class="s" x="1210" y="589">SCHWARZENBORN</text>
<rect class="w" x="1209" y="603" width="82" height="30"/><text class="l" x="1211" y="615">верт.</text><text class="l" x="1211" y="630">боевой полк</text>
<rect class="w" x="1209" y="640" width="82" height="30"/><text class="l" x="1211" y="651">верт.</text><text class="l" x="1211" y="666">боевой полк</text>
<text class="s" x="1280" y="688">10</text>
<rect class="w" x="1209" y="675" width="68" height="30"/><text class="l" x="1211" y="686">легкий</text><text class="l" x="1211" y="701">верт. полк</text>

<rect x="1293" y="499" width="34" height="19" fill="#fff" stroke="#888"/>
<use href="#st" x="1310" y="493"/>
<rect class="w" x="1298" y="489" width="102" height="31"/><text class="l" x="1300" y="501">бригада</text><text class="l" x="1300" y="516">поддержки</text>
<use href="#whq" x="1302" y="533"/><use href="#t1" x="1302" y="533"/>
<use href="#art" x="1302" y="571"/><use href="#t3" x="1302" y="571"/>
<use href="#cbrnd" x="1302" y="607"/><use href="#t3" x="1302" y="607"/>
<use href="#aa" x="1302" y="643"/><use href="#t2" x="1302" y="643"/>
<use href="#cbrnd" x="1302" y="680"/><use href="#t1" x="1302" y="680"/>
<use href="#aal" x="1302" y="717"/><use href="#t1" x="1302" y="717"/>
<rect class="w" x="1335" y="530" width="57" height="30"/><text class="l" x="1337" y="541">штабная</text><text class="l" x="1337" y="556">рота</text>
<text class="s" x="1398" y="579">345</text>
<rect class="w" x="1335" y="566" width="60" height="15"/><text class="l" x="1337" y="578">арт. полк</text>
<text class="s" x="1337" y="589">KUSEL</text>
<rect class="w" x="1335" y="602" width="78" height="15"/><text class="l" x="1337" y="614">полк РХБЗ</text>
<text class="s" x="1337" y="626">BRUCHSAL</text>
<rect class="w" x="1335" y="640" width="64" height="30"/><text class="l" x="1337" y="651">занитный</text><text class="l" x="1337" y="666">батальон</text>
<rect class="w" x="1335" y="677" width="78" height="30"/><text class="l" x="1337" y="688">легкая</text><text class="l" x="1337" y="703">рота РХБЗ</text>
<rect class="w" x="1335" y="714" width="62" height="46"/><text class="l" x="1337" y="725">легкая</text><text class="l" x="1337" y="741">зенитная</text><text class="l" x="1337" y="756">батарея</text>

<!-- D/F BRIGADE -->
<use href="#fde" x="1420" y="494"/>
<rect x="1420" y="499" width="33" height="19" fill="#f7bcbc" stroke="#c89a9a"/>
<use href="#st" x="1437" y="493"/>
<text class="s" x="1454" y="507">D</text><text class="s" x="1454" y="516">M</text>
<rect class="w" x="1459" y="470" width="111" height="48"/><text class="l" x="1461" y="481">немецко-</text><text class="l" x="1461" y="496">французская</text><text class="l" x="1463" y="510">бригада</text>
<use href="#frrec" x="1428" y="537"/><use href="#t3" x="1428" y="537"/><use href="#ffr" x="1422" y="532"/>
<use href="#frinf" x="1428" y="573"/><use href="#t3" x="1428" y="573"/><use href="#ffr" x="1422" y="568"/>
<use href="#frrec" x="1428" y="608"/><use href="#t2" x="1428" y="608"/><use href="#fde" x="1422" y="603"/>
<use href="#frinfd" x="1428" y="643"/><use href="#t2" x="1428" y="643"/><use href="#fde" x="1422" y="638"/>
<use href="#frinf" x="1428" y="678"/><use href="#t2" x="1428" y="678"/><use href="#fde" x="1422" y="673"/>
<use href="#eng" x="1428" y="716"/><use href="#t2" x="1428" y="716"/><use href="#fde" x="1422" y="711"/>
<use href="#log" x="1428" y="752"/><use href="#t2" x="1428" y="752"/><use href="#fde" x="1422" y="747"/>
<rect class="w" x="1462" y="540" width="110" height="17"/><text class="l" x="1464" y="553">развед полк (фр)</text>
<rect class="w" x="1462" y="574" width="110" height="32"/><text class="l" x="1464" y="586">стрелковый полк</text><text class="l" x="1464" y="601">(фр)</text>
<rect class="w" x="1462" y="607" width="120" height="17"/><text class="l" x="1464" y="620">развед. бататльон</text>
<rect class="w" x="1462" y="640" width="82" height="30"/><text class="l" x="1464" y="651">стрелковый</text><text class="l" x="1464" y="666">батальон</text>
<rect class="w" x="1462" y="679" width="95" height="17"/><text class="l" x="1464" y="691">арт. батальон</text>
<rect class="w" x="1462" y="719" width="118" height="31"/><text class="l" x="1464" y="731">инженерная мех.</text><text class="l" x="1464" y="746">рота</text>
<rect class="w" x="1462" y="757" width="80" height="31"/><text class="l" x="1464" y="770">батальон</text><text class="l" x="1464" y="784">снабжения</text>
</svg>
</body></html>
